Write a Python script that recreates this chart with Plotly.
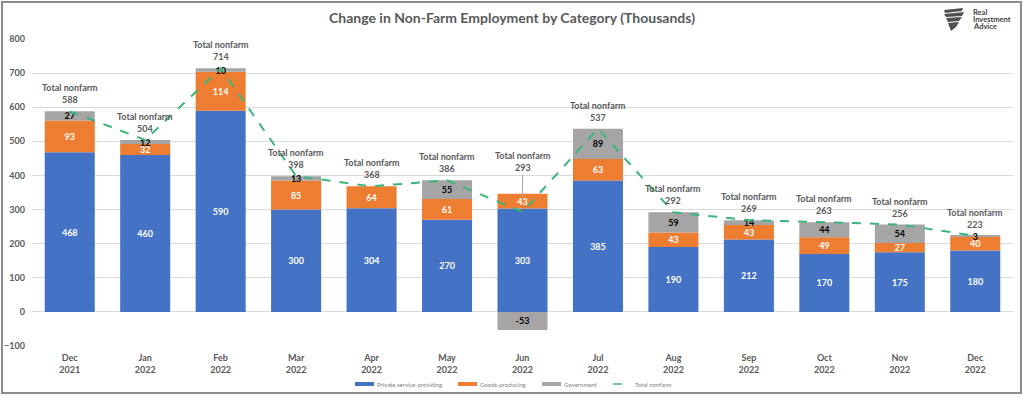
import plotly.graph_objects as go

months = ["Dec<br>2021", "Jan<br>2022", "Feb<br>2022", "Mar<br>2022", "Apr<br>2022", "May<br>2022",
          "Jun<br>2022", "Jul<br>2022", "Aug<br>2022", "Sep<br>2022", "Oct<br>2022", "Nov<br>2022", "Dec<br>2022"]
private_service = [468, 460, 590, 300, 304, 270, 303, 385, 190, 212, 170, 175, 180]
goods_producing = [93, 32, 114, 85, 64, 61, 43, 63, 43, 43, 49, 27, 40]
government = [27, 12, 10, 13, 0, 55, -53, 89, 59, 14, 44, 54, 3]
total_nonfarm = [588, 504, 714, 398, 368, 386, 293, 537, 292, 269, 263, 256, 223]
y_ticks = [-100, 0, 100, 200, 300, 400, 500, 600, 700, 800]

FONT = "Lato"
GRAY_TXT = "#595959"
BLUE = "#4472C4"
ORANGE = "#ED7D31"
GRAY = "#A5A5A5"
GREEN = "#3BB57C"

W, H = 1024, 397
ML, MR, MT, MB = 32, 11, 39, 51
PW, PH = W - ML - MR, H - MT - MB


def px(x, y):
    """pixel -> paper coords (decoration placement only)"""
    return (x - ML) / PW, (H - MB - y) / PH


fig = go.Figure()


def bar(name, vals, color, txtcolor):
    fig.add_trace(go.Bar(
        x=months, y=vals, name=name, marker=dict(color=color, line=dict(width=0)),
        text=[str(v) for v in vals], textposition="inside", insidetextanchor="middle",
        constraintext="none", textangle=0, cliponaxis=False,
        textfont=dict(family=FONT, size=9, color=txtcolor, weight="bold"),
        hoverinfo="skip", showlegend=False))


bar("Private service-providing", private_service, BLUE, "white")
bar("Goods-producing", goods_producing, ORANGE, "white")
bar("Government", government, GRAY, "black")

fig.add_trace(go.Scatter(
    x=months, y=total_nonfarm, name="Total nonfarm", mode="lines",
    line=dict(color=GREEN, width=2, dash="dash"), hoverinfo="skip", showlegend=False))

annotations = []
for m, t in zip(months, total_nonfarm):
    if m.startswith("Jun"):
        annotations.append(dict(
            x=m, y=t, text=f"Total nonfarm<br>{t}", showarrow=True, arrowhead=0,
            arrowwidth=1, arrowcolor="#A6A6A6", ax=0, ay=-50, standoff=15,
            font=dict(family=FONT, size=9, color=GRAY_TXT, weight="bold")))
    else:
        annotations.append(dict(
            x=m, y=t, text=f"Total nonfarm<br>{t}", showarrow=False,
            yanchor="bottom", yshift=4,
            font=dict(family=FONT, size=9, color=GRAY_TXT, weight="bold")))

# logo text
for word, yy in (("Real", 13), ("Investment", 20), ("Advice", 27)):
    lx, ly = px(971, yy)
    annotations.append(dict(
        xref="paper", yref="paper", x=lx, y=ly, xanchor="left", yanchor="middle",
        text=word, showarrow=False,
        font=dict(family=FONT, size=7.5, color="#404040", weight="bold")))

shapes = []
# frame
x0, y0 = px(2, 2)
x1, y1 = px(1021, 393)
shapes.append(dict(type="rect", xref="paper", yref="paper", x0=x0, x1=x1, y0=y1, y1=y0,
                   line=dict(color="#8C8C8C", width=2), layer="above"))
# logo icon (stylised wing stripes)
stripes = [
    [(944, 10), (963, 8), (962, 11), (945, 13)],
    [(944, 14), (964, 12), (962, 16), (946, 17)],
    [(946, 18), (962, 17), (959, 21), (948, 22)],
    [(948, 23), (959, 22), (956, 27), (951, 31)],
]
for st in stripes:
    pts = [px(a, b) for a, b in st]
    path = "M " + " L ".join(f"{a:.4f},{b:.4f}" for a, b in pts) + " Z"
    shapes.append(dict(type="path", xref="paper", yref="paper", path=path,
                       fillcolor="#505050", line=dict(width=0), layer="above"))

# legend (drawn: thin swatches + labels, as in the reference)
legend_items = [("Private service-providing", BLUE, 355, "bar"),
                ("Goods-producing", ORANGE, 458, "bar"),
                ("Government", GRAY, 542, "bar"),
                ("Total nonfarm", GREEN, 613, "line")]
LY = 384
for label, color, sx, kind in legend_items:
    if kind == "bar":
        a0, b0 = px(sx, LY - 2)
        a1, b1 = px(sx + 19, LY + 2)
        shapes.append(dict(type="rect", xref="paper", yref="paper", x0=a0, x1=a1, y0=b1, y1=b0,
                           fillcolor=color, line=dict(width=0)))
    else:
        a0, b0 = px(sx, LY)
        a1, _ = px(sx + 15, LY)
        shapes.append(dict(type="line", xref="paper", yref="paper", x0=a0, x1=a1, y0=b0, y1=b0,
                           line=dict(color=color, width=1.5, dash="dash")))
    tx, ty = px(sx + 20, LY)
    annotations.append(dict(xref="paper", yref="paper", x=tx, y=ty, xanchor="left",
                            yanchor="middle", text=label, showarrow=False,
                            font=dict(family=FONT, size=6, color="#7F7F7F")))

fig.update_layout(
    width=W, height=H,
    margin=dict(l=ML, r=MR, t=MT, b=MB, autoexpand=False),
    paper_bgcolor="white", plot_bgcolor="white",
    barmode="relative", bargap=0.337,
    title=dict(text="Change in Non-Farm Employment by Category (Thousands)",
               x=0.5, xref="container", xanchor="center", y=0.955, yanchor="middle",
               font=dict(family=FONT, size=14, color=GRAY_TXT, weight="bold")),
    font=dict(family=FONT, color=GRAY_TXT),
    showlegend=False,
    annotations=annotations,
    shapes=shapes,
)

fig.update_xaxes(showgrid=False, showline=False, ticks="", automargin=False,
                 ticklabelstandoff=5,
                 tickfont=dict(family=FONT, size=9, color=GRAY_TXT, weight="bold"))
fig.update_yaxes(range=[-100, 800], tickvals=y_ticks, showgrid=True, gridcolor="#D9D9D9",
                 gridwidth=1, zeroline=True, zerolinecolor="#D9D9D9", zerolinewidth=1,
                 showline=False, ticks="", automargin=False, ticklabelstandoff=6,
                 tickfont=dict(family=FONT, size=9, color=GRAY_TXT, weight="bold"))

fig.write_html("out.html", config={"displayModeBar": False},
               post_script="document.body.style.margin='0';document.body.style.overflow='hidden';")
